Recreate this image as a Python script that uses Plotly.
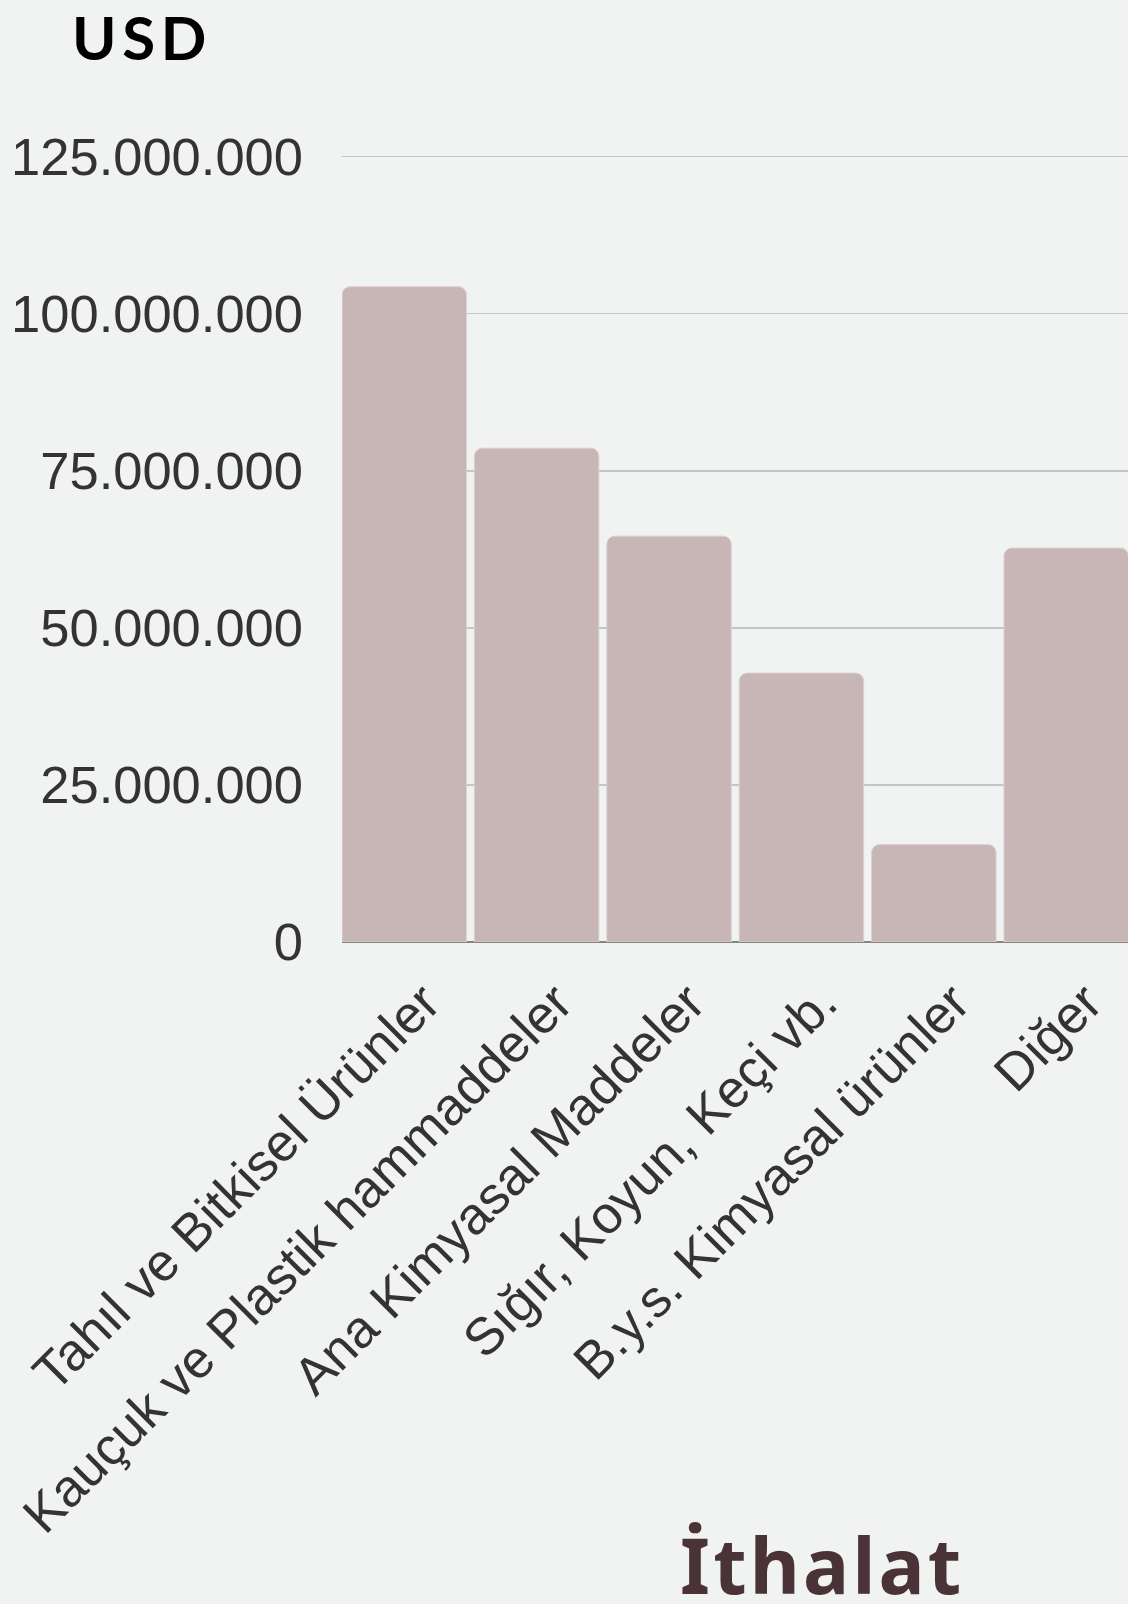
import plotly.graph_objects as go

categories = [
    "Tahıl ve Bitkisel Ürünler",
    "Kauçuk ve Plastik hammaddeler",
    "Ana Kimyasal Maddeler",
    "Sığır, Koyun, Keçi vb.",
    "B.y.s. Kimyasal ürünler",
    "Diğer",
]
values = [104_300_000, 78_600_000, 64_600_000, 42_800_000, 15_500_000, 62_700_000]
y_ticks = [0, 25_000_000, 50_000_000, 75_000_000, 100_000_000, 125_000_000]

W, H = 1128, 1604
PL, PR, PT, PB = 342, 1128, 130, 942.3

fig = go.Figure(
    go.Bar(
        x=categories,
        y=values,
        marker=dict(color="#c8b6b6", cornerradius=8,
                    line=dict(color="#dcd0d0", width=1)),
        hoverinfo="skip",
    )
)

px_per_unit = 6.296  # px per million
ymax = 125 + (156.7 - PT) / px_per_unit
cat_px = 132.4
x0 = -0.47

fig.update_layout(
    width=W,
    height=H,
    margin=dict(l=PL, r=W - PR, t=PT, b=H - PB, pad=0, autoexpand=False),
    paper_bgcolor="#f1f3f2",
    plot_bgcolor="#f1f3f2",
    separators=",.",
    bargap=0.06,
    showlegend=False,
    font=dict(family="Liberation Sans, Arial, sans-serif", color="#333333"),
    xaxis=dict(
        range=[x0, x0 + (PR - PL) / cat_px],
        tickangle=-45,
        tickfont=dict(size=52.5, color="#333333"),
        showgrid=False,
        showline=False,
        zeroline=False,
        ticks="",
        ticklabelstandoff=18,
        ticklabelshift=20,
        automargin=False,
        fixedrange=True,
    ),
    yaxis=dict(
        range=[0, ymax * 1e6],
        tickvals=y_ticks,
        tickformat=",d",
        tickfont=dict(size=52.5, color="#333333"),
        showgrid=True,
        gridcolor="#c4c6c5",
        gridwidth=1.5,
        zeroline=True,
        zerolinecolor="#858585",
        zerolinewidth=2,
        showline=False,
        ticks="",
        ticklabelstandoff=38,
        automargin=False,
        fixedrange=True,
    ),
)

def px_to_paper(px, py):
    return (px - PL) / (PR - PL), (PB - py) / (PB - PT)

usp = "\u200a<span style='font-size:30px'>\u200a</span>"
ux, uy = px_to_paper(139, 37)
fig.add_annotation(
    text=usp.join("USD"), x=ux, y=uy, xref="paper", yref="paper",
    xanchor="center", yanchor="middle", showarrow=False,
    font=dict(family="Lato, sans-serif", size=60, color="#000000", weight="bold"),
)

sp = "<span style='font-size:32px'>\u200a</span>"
ix, iy = px_to_paper(820, 1565)
fig.add_annotation(
    text=sp.join("İthalat"), x=ix, y=iy, xref="paper", yref="paper",
    xanchor="center", yanchor="middle", showarrow=False,
    font=dict(family="Noto Sans, sans-serif", size=77, color="#4a3336", weight="bold"),
)

fig.write_html(
    "out.html",
    config={"displayModeBar": False, "staticPlot": True},
    post_script="document.body.style.margin='0';document.body.style.background='#f1f3f2';",
)
